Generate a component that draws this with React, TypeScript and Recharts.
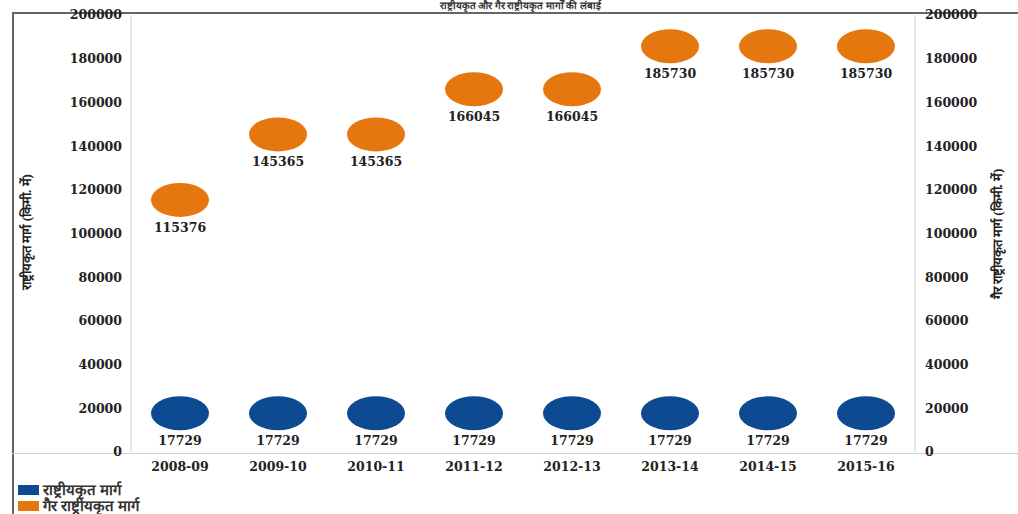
import React from "react";
import { ScatterChart, Scatter, XAxis, YAxis } from "recharts";

// years on the x axis
const years = ["2008-09", "2009-10", "2010-11", "2011-12", "2012-13", "2013-14", "2014-15", "2015-16"];
// राष्ट्रीयकृत मार्ग (km)
const nationalRoutes = [17729, 17729, 17729, 17729, 17729, 17729, 17729, 17729];
// गैर राष्ट्रीयकृत मार्ग (km)
const nonNationalRoutes = [115376, 145365, 145365, 166045, 166045, 185730, 185730, 185730];
const yTicks = [0, 20000, 40000, 60000, 80000, 100000, 120000, 140000, 160000, 180000, 200000];

const xTicks = years.map((_, i) => i);
const nationalData = years.map((year, i) => ({ x: i, year, value: nationalRoutes[i] }));
const nonNationalData = years.map((year, i) => ({ x: i, year, value: nonNationalRoutes[i] }));

const BLUE = "#0e4a92";
const ORANGE = "#e6770f";
const FONT = "'Liberation Serif', 'Times New Roman', serif";
const NUM_FONT = "'DejaVu Serif', serif";
const LINE = "#d0d0d0";

const Bubble = (props: any) => {
  const { cx, cy, fill, payload } = props;
  return (
    <g>
      <ellipse cx={cx} cy={cy} rx={29} ry={17} fill={fill} />
      <text
        x={cx}
        y={cy + 32}
        textAnchor="middle"
        fontFamily={NUM_FONT}
        fontWeight="bold"
        fontSize={12.5}
        fill="#222"
      >
        {payload.value}
      </text>
    </g>
  );
};

const tickStyle = { fontFamily: NUM_FONT, fontWeight: "bold", fontSize: 12.5, fill: "#222" };

const AxisTitle = (x: number, y: number, text: string) => () =>
  (
    <text
      x={x}
      y={y}
      transform={`rotate(-90, ${x}, ${y})`}
      textAnchor="middle"
      dominantBaseline="central"
      fontFamily={FONT}
      fontWeight="bold"
      fontSize={13}
      fill="#222"
    >
      {text}
    </text>
  );

const line = (style: React.CSSProperties) => (
  <div style={{ position: "absolute", background: LINE, ...style }} />
);

export default function App() {
  return (
    <div
      style={{
        position: "absolute",
        left: 0,
        top: 0,
        width: 1018,
        height: 514,
        background: "#fff",
        overflow: "hidden",
        fontFamily: FONT,
      }}
    >
      {/* frame lines */}
      <div style={{ position: "absolute", left: 12, top: 12, width: 1006, height: 2, background: "#666" }} />
      <div style={{ position: "absolute", left: 12, top: 12, width: 2, height: 502, background: "#666" }} />
      {line({ left: 12, top: 453, width: 1006, height: 1 })}

      <div
        style={{
          position: "absolute",
          top: 0,
          left: 0,
          width: 1040,
          textAlign: "center",
          fontSize: 10,
          lineHeight: "12px",
          fontWeight: "bold",
          color: "#333",
          whiteSpace: "nowrap",
        }}
      >
        <span style={{ background: "#fff", padding: "0 4px" }}>
          राष्ट्रीयकृत और गैर राष्ट्रीयकृत मार्गों की लंबाई
        </span>
      </div>

      <div style={{ position: "absolute", left: 0, top: 0 }}>
        <ScatterChart width={1018} height={514} margin={{ top: 15, right: 0, bottom: 32, left: 0 }}>
          <XAxis
            type="number"
            dataKey="x"
            domain={[-0.5, 7.5]}
            ticks={xTicks}
            tickFormatter={(i: number) => years[i]}
            axisLine={false}
            tickLine={false}
            tickSize={0}
            tickMargin={10}
            height={30}
            tick={tickStyle}
            interval={0}
          />
          <YAxis
            yAxisId="left"
            type="number"
            dataKey="value"
            domain={[0, 200000]}
            ticks={yTicks}
            width={131}
            axisLine={{ stroke: LINE }}
            tickLine={false}
            tickSize={0}
            tickMargin={9}
            tick={tickStyle}
            interval={0}
            label={{ content: AxisTitle(26, 232, "राष्ट्रीयकृत मार्ग (किमी. में)") }}
          />
          <YAxis
            yAxisId="right"
            orientation="right"
            type="number"
            dataKey="value"
            domain={[0, 200000]}
            ticks={yTicks}
            width={103}
            axisLine={{ stroke: LINE }}
            tickLine={false}
            tickSize={0}
            tickMargin={10}
            tick={tickStyle}
            interval={0}
            label={{ content: AxisTitle(997, 234, "गैर राष्ट्रीयकृत मार्ग (किमी. में)") }}
          />
          <Scatter
            yAxisId="left"
            data={nationalData}
            dataKey="value"
            fill={BLUE}
            shape={Bubble}
            isAnimationActive={false}
          />
          <Scatter
            yAxisId="right"
            data={nonNationalData}
            dataKey="value"
            fill={ORANGE}
            shape={Bubble}
            isAnimationActive={false}
          />
        </ScatterChart>
      </div>

      {/* legend */}
      <div style={{ position: "absolute", left: 18, top: 482, fontSize: 15, fontWeight: "bold", color: "#333", lineHeight: "16px" }}>
        <div style={{ display: "flex", alignItems: "center" }}>
          <span style={{ display: "inline-block", width: 21, height: 10, background: BLUE, marginRight: 4 }} />
          राष्ट्रीयकृत मार्ग
        </div>
        <div style={{ display: "flex", alignItems: "center" }}>
          <span style={{ display: "inline-block", width: 21, height: 10, background: ORANGE, marginRight: 4 }} />
          गैर राष्ट्रीयकृत मार्ग
        </div>
      </div>
    </div>
  );
}
